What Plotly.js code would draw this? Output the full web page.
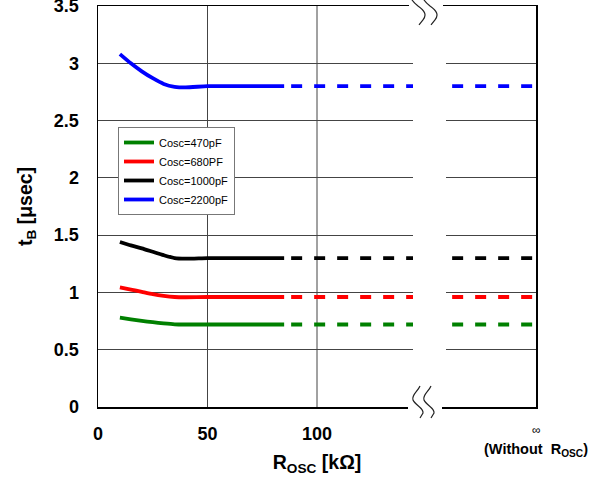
<!DOCTYPE html>
<html>
<head>
<meta charset="utf-8">
<script src="https://cdn.plot.ly/plotly-3.0.1.min.js"></script>
<style>html,body{margin:0;padding:0;background:#fff;}#chart{width:600px;height:483px;}</style>
</head>
<body>
<div id="chart"></div>
<script>
// ---- data ----
const rosc = [10, 15, 20, 25, 30, 35, 40, 50, 60, 70, 85];
const tb470 = [0.78, 0.765, 0.752, 0.74, 0.73, 0.722, 0.72, 0.72, 0.72, 0.72, 0.72];
const tb680 = [1.045, 1.025, 1.005, 0.985, 0.97, 0.96, 0.958, 0.96, 0.96, 0.96, 0.96];
const tb1000 = [1.44, 1.41, 1.385, 1.355, 1.325, 1.30, 1.295, 1.30, 1.30, 1.30, 1.30];
const tb2200 = [3.08, 3.00, 2.93, 2.87, 2.82, 2.795, 2.79, 2.80, 2.80, 2.80, 2.80];
const roscInf = 200;               // position used for "∞ (Without R_OSC)"
const tbInf = [0.72, 0.96, 1.30, 2.80]; // values without R_OSC
const seriesNames = ["Cosc=470pF", "Cosc=680PF", "Cosc=1000pF", "Cosc=2200pF"];
const seriesColors = ["#008000", "#ff0000", "#000000", "#0000ff"];
const xTickVals = [0, 50, 100];
const xTickText = ["0", "50", "100"];

// ---- layout geometry ----
const L = 98, R = 536, T = 6, B = 407, W = 600, H = 483;
const px = v => (v - L) / (R - L);
const py = v => (B - v) / (B - T);

const solid = [tb470, tb680, tb1000, tb2200];
const traces = [];
solid.forEach((ys, i) => {
  traces.push({
    x: rosc, y: ys, type: 'scatter', mode: 'lines', name: seriesNames[i],
    line: {color: seriesColors[i], width: 3.8, shape: 'spline', smoothing: 0.6},
    legendgroup: 'g' + i
  });
});
solid.forEach((ys, i) => {
  traces.push({
    x: [rosc[rosc.length - 1], roscInf], y: [ys[ys.length - 1], tbInf[i]],
    type: 'scatter', mode: 'lines', showlegend: false, legendgroup: 'g' + i,
    line: {color: seriesColors[i], width: 3.8, dash: '0px,7px,11px,5px'}
  });
});

function pathFrom(points) {
  return points.map(p => {
    let s = p[0];
    for (let k = 1; k < p.length; k += 2) {
      s += ' ' + px(p[k]).toFixed(5) + ',' + py(p[k + 1]).toFixed(5);
    }
    return s;
  }).join(' ');
}
function topSquiggle(dx) {
  return pathFrom([
    ['M', 411 + dx, -6],
    ['C', 409 + dx, -2, 413 + dx, 2, 418 + dx, 6],
    ['C', 425 + dx, 11, 427 + dx, 15, 423 + dx, 20],
    ['L', 419 + dx, 25]
  ]);
}
function botSquiggle(dx) {
  return pathFrom([
    ['M', 420 + dx, 386],
    ['C', 418 + dx, 391, 411 + dx, 395, 413 + dx, 400],
    ['C', 415 + dx, 405, 424 + dx, 408, 423 + dx, 413],
    ['L', 420 + dx, 418]
  ]);
}

const white = {type: 'rect', xref: 'paper', yref: 'paper', fillcolor: '#ffffff', line: {width: 0}, layer: 'above'};
const squig = {type: 'path', xref: 'paper', yref: 'paper', line: {color: '#222222', width: 1.2}, layer: 'above'};
const shapes = [
  Object.assign({}, white, {x0: px(413), x1: px(446), y0: py(T + 1), y1: py(B - 1)}),
  Object.assign({}, white, {x0: px(409), x1: px(443), y0: py(T + 4), y1: py(T - 4)}),
  Object.assign({}, white, {x0: px(408), x1: px(442), y0: py(B + 4), y1: py(B - 4)}),
  Object.assign({}, squig, {path: topSquiggle(0)}),
  Object.assign({}, squig, {path: topSquiggle(12)}),
  Object.assign({}, squig, {path: botSquiggle(0)}),
  Object.assign({}, squig, {path: botSquiggle(11)})
];

const tickFont = {family: 'Arial, "Liberation Sans", sans-serif', size: 18, color: '#000', weight: 'bold'};
const titleFont = {family: 'Arial, "Liberation Sans", sans-serif', size: 19.5, color: '#000', weight: 'bold'};

const layout = {
  width: W, height: H,
  margin: {l: L, r: W - R, t: T, b: H - B, pad: 0},
  paper_bgcolor: '#fff', plot_bgcolor: '#fff',
  showlegend: true,
  legend: {
    x: px(118), y: py(127), xanchor: 'left', yanchor: 'top',
    bgcolor: '#fff', bordercolor: '#777', borderwidth: 1,
    font: {family: 'Arial, "Liberation Sans", sans-serif', size: 11, color: '#000'},
    tracegroupgap: 0, itemwidth: 30
  },
  xaxis: {
    range: [0, roscInf], tickvals: xTickVals, ticktext: xTickText,
    showgrid: false, zeroline: false, showline: true, mirror: true,
    linecolor: '#000', linewidth: 1.5, ticks: '', ticklabelstandoff: 10,
    tickfont: tickFont, ticklabeloverflow: 'allow',
    title: {text: 'R<sub>OSC</sub> [kΩ]', font: titleFont, standoff: 12}
  },
  yaxis: {
    range: [0, 3.5], dtick: 0.5, tick0: 0,
    showgrid: true, gridcolor: '#444', gridwidth: 1, zeroline: false,
    showline: true, mirror: true, linecolor: '#000', linewidth: 1.5,
    ticks: '', ticklabelstandoff: 14, tickfont: tickFont, ticklabeloverflow: 'allow',
    title: {text: 't<sub>B</sub> [μsec]', font: titleFont, standoff: 16}
  },
  shapes: shapes.concat([50, 100, 150].map(v => ({
    type: 'line', xref: 'x', yref: 'paper', x0: v, x1: v, y0: 0, y1: 1,
    line: {color: '#444', width: 1}, layer: 'below'
  }))),
  annotations: [
    {x: roscInf, y: py(439), xref: 'x', yref: 'paper', text: '∞', showarrow: false,
     font: {family: 'Arial, "Liberation Sans", sans-serif', size: 12, color: '#000'}},
    {x: roscInf, y: py(461), xref: 'x', yref: 'paper', text: '(Without  R<sub>OSC</sub>)', showarrow: false,
     font: {family: 'Arial, "Liberation Sans", sans-serif', size: 14.5, color: '#000', weight: 'bold'}}
  ]
};

Plotly.newPlot('chart', traces, layout, {displayModeBar: false, staticPlot: true});
</script>
</body>
</html>
